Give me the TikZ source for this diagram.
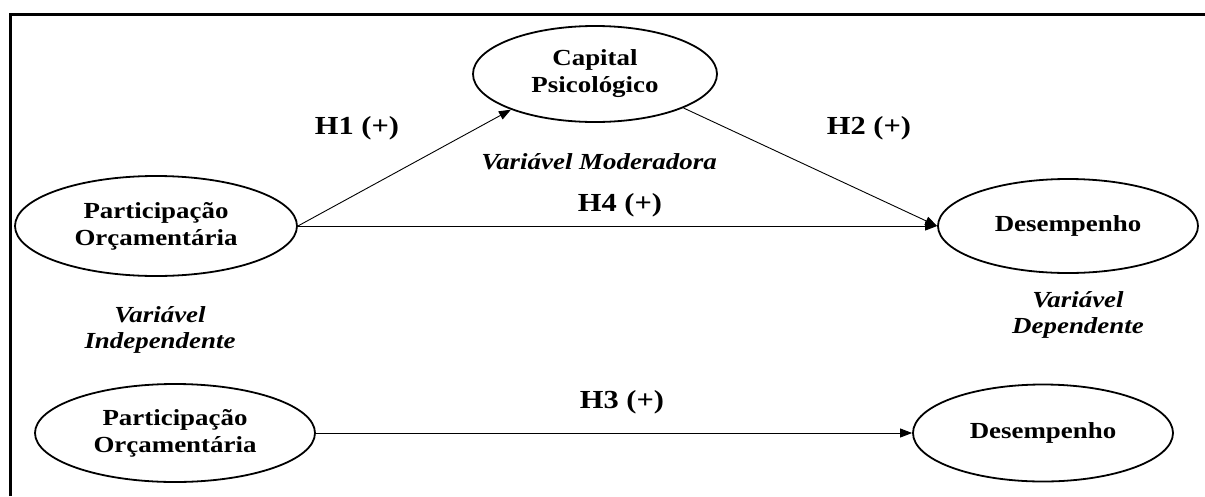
\documentclass[tikz,border=0pt]{standalone}
\usepackage{fontspec}
\setmainfont{Liberation Serif}[FakeStretch=1.17]
\usetikzlibrary{shapes.geometric,arrows.meta}
\tikzset{
  var/.style={draw, ellipse, line width=1.8pt, inner sep=0pt, align=center,
    font=\fontsize{23}{27}\selectfont\bfseries},
  hlab/.style={font=\fontsize{26}{30}\selectfont\bfseries, inner sep=0pt},
  role/.style={font=\fontsize{23}{26}\selectfont\bfseries\itshape, align=center, inner sep=0pt},
  arr/.style={-{Triangle[length=12pt,width=9pt]}, line width=0.9pt},
  frame/.style={line width=2.7pt}
}
\begin{document}
\begin{tikzpicture}[x=1pt,y=-1pt]
\useasboundingbox (0,0) rectangle (1205,496);
\draw[frame] (10.3,496) -- (10.3,14.7) -- (1205,14.7);
% ellipses
\node[var, minimum width=244pt, minimum height=96pt] (cap) at (595,74) {Capital\\Psicológico};
\node[var, minimum width=282pt, minimum height=100pt] (p1) at (156,226) {Participação\\Orçamentária};
\node[var, minimum width=260pt, minimum height=94pt] (d1) at (1068,226) {Desempenho};
\node[var, minimum width=280pt, minimum height=98pt] (p2) at (175,433) {Participação\\Orçamentária};
\node[var, minimum width=260pt, minimum height=97pt] (d2) at (1043,433) {Desempenho};
% connectors
\draw[arr] (p1.east) -- (cap.203);
\draw[arr] (cap.339) -- (d1.west);
\draw[arr] (p1.east) -- (d1.west);
\draw[arr] (p2.east) -- (d2.west);
% labels
\node[hlab] (h1) at (357,128) {H1 (+)};
\node[hlab] (h2) at (869,128) {H2 (+)};
\node[hlab] (h4) at (620,205) {H4 (+)};
\node[hlab] (h3) at (622,402) {H3 (+)};
\node[role] (mod) at (599,162) {Variável Moderadora};
\node[role] (ind) at (160,330) {Variável\\Independente};
\node[role] (dep) at (1078,315) {Variável\\Dependente};
\end{tikzpicture}
\end{document}
